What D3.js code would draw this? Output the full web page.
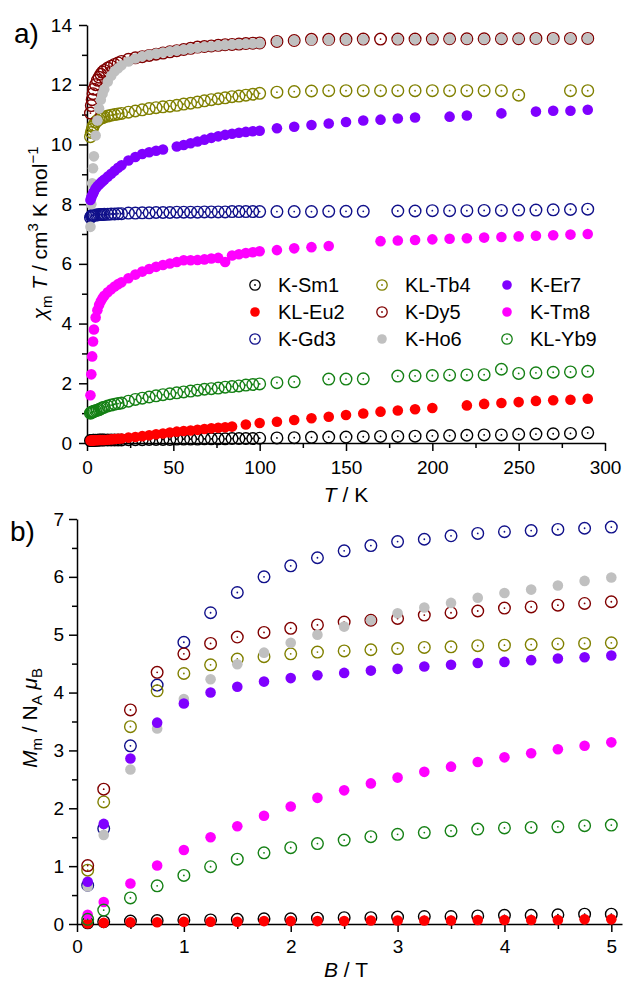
<!DOCTYPE html>
<html>
<head>
<meta charset="utf-8">
<script src="https://cdn.jsdelivr.net/npm/d3@7"></script>
<style>
  body { margin: 0; background: #fff; }
  svg { font-family: 'Liberation Sans', Arial, sans-serif; }
</style>
</head>
<body>
<svg id="chart" width="624" height="981"></svg>
<script>
const names = ['K-Sm1', 'KL-Eu2', 'K-Gd3', 'KL-Tb4', 'K-Dy5', 'K-Ho6', 'K-Er7', 'K-Tm8', 'KL-Yb9']
const colors = ['#000000', '#ff0000', '#10108a', '#808000', '#800000', '#c0c0c0', '#8000ff', '#ff00ff', '#158015']
const filled = [false, true, false, false, false, true, true, true, false]

// panel a) chi*T vs T
const tempK = [
  2, 2.5, 3, 3.5, 4, 5, 6, 7, 8, 9, 10, 12, 14, 16, 18, 20,
  24, 28, 32, 36, 40, 44, 48, 52, 56, 60, 64, 68, 72, 76, 80, 84, 88, 92, 96, 100,
  110, 120, 130, 140, 150, 160, 170, 180, 190, 200, 210, 220, 230, 240, 250, 260, 270, 280, 290
]
const sm1ChiT = [
  0.08, 0.08, 0.08, 0.09, 0.09, 0.09, 0.09, 0.1, 0.1, 0.1, 0.1, 0.1, 0.1, 0.1, 0.1, 0.1,
  0.11, 0.11, 0.11, 0.12, 0.12, 0.12, 0.12, 0.13, 0.13, 0.13, 0.13, 0.14, 0.14, 0.14, 0.14, 0.15, 0.15, 0.15, 0.15, 0.16,
  0.17, 0.18, 0.19, 0.2, 0.2, 0.21, 0.22, 0.22, 0.23, 0.24, 0.25, 0.26, 0.27, 0.27, 0.29, 0.3, 0.31, 0.32, 0.34
]
const eu2ChiT = [
  0.08, 0.08, 0.08, 0.08, 0.09, 0.09, 0.09, 0.1, 0.1, 0.1, 0.1, 0.11, 0.12, 0.13, 0.14, 0.15,
  0.18, 0.2, 0.23, 0.26, 0.29, 0.32, 0.35, 0.38, 0.4, 0.42, 0.44, 0.47, 0.49, 0.51, 0.53, 0.55, null, 0.62, null, 0.67,
  0.71, 0.77, 0.83, 0.88, 0.94, 0.99, 1.05, 1.09, 1.13, 1.17, null, 1.26, 1.31, 1.34, 1.37, 1.41, 1.43, 1.45, 1.48
]
const gd3ChiT = [
  7.55, 7.6, 7.62, 7.63, 7.63, 7.64, 7.64, 7.65, 7.65, 7.65, 7.66, 7.66, 7.67, 7.67, 7.68, 7.68,
  7.7, 7.7, 7.71, 7.71, 7.72, 7.72, 7.72, 7.73, 7.73, 7.73, 7.73, 7.74, 7.74, 7.74, 7.74, 7.75, 7.75, 7.75, 7.75, 7.75,
  7.75, 7.75, 7.75, 7.76, 7.76, 7.76, null, 7.77, 7.77, 7.78, 7.78, 7.78, 7.79, 7.79, 7.8, 7.8, 7.81, 7.82, 7.83
]
const tb4ChiT = [
  10.26, 10.4, 10.5, 10.6, 10.65, 10.75, 10.8, 10.85, 10.88, 10.9, 10.92, 10.95, 10.98, 11.0, 11.02, 11.04,
  11.08, 11.12, 11.16, 11.2, 11.23, 11.26, 11.28, 11.31, 11.35, 11.38, 11.42, 11.46, 11.5, 11.53, 11.56, 11.6, 11.62, 11.65, 11.68, 11.71,
  11.75, 11.77, 11.79, 11.8, 11.8, 11.8, 11.8, 11.8, 11.8, 11.8, 11.8, 11.8, 11.8, 11.8, 11.65, null, null, 11.8, 11.8
]
const dy5ChiT = [
  11.05, 11.3, 11.5, 11.7, 11.85, 12.0, 12.15, 12.25, 12.35, 12.42, 12.48, 12.56, 12.62, 12.68, 12.73, 12.78,
  12.85, 12.9, 12.94, 12.98, 13.02, 13.06, 13.1, 13.14, 13.18, 13.22, 13.26, 13.28, 13.3, 13.32, 13.34, 13.35, 13.36, 13.38, 13.39, 13.4,
  13.45, 13.48, 13.52, 13.52, 13.52, 13.53, 13.53, 13.53, 13.53, 13.53, 13.54, 13.54, 13.54, 13.54, 13.54, 13.55, 13.55, 13.55, 13.55
]
const ho6ChiT = [
  7.24, 8.0, 8.7, 9.2, 9.6, 10.3, 10.8, 11.2, 11.5, 11.7, 11.85, 12.1, 12.3, 12.45, 12.55, 12.65,
  12.78, 12.88, 12.95, 13.0, 13.04, 13.08, 13.12, 13.15, 13.18, 13.21, 13.24, 13.27, 13.29, 13.31, 13.33, 13.35, 13.36, 13.37, 13.38, 13.39,
  13.45, 13.48, 13.5, 13.5, 13.51, 13.52, null, 13.52, 13.52, 13.53, 13.53, 13.53, 13.53, 13.54, 13.54, 13.54, 13.54, 13.55, 13.55
]
const er7ChiT = [
  8.14, 8.22, 8.3, 8.36, 8.42, 8.52, 8.6, 8.66, 8.72, 8.77, 8.82, 8.92, 9.02, 9.12, 9.22, 9.3,
  9.46, 9.58, 9.68, 9.74, 9.79, 9.83, null, 9.93, 9.98, 10.04, 10.1, 10.16, 10.22, 10.27, 10.32, 10.36, 10.39, 10.42, 10.44, 10.46,
  10.54, 10.59, 10.65, 10.7, 10.75, 10.8, 10.83, 10.87, 10.9, null, 10.93, 10.97, null, 11.04, null, 11.1, 11.13, 11.13, 11.16
]
const tm8ChiT = [
  1.6, 2.3, 2.9, 3.4, 3.8, 4.2, 4.45, 4.62, 4.75, 4.85, 4.93, 5.05, 5.15, 5.24, 5.32, 5.38,
  5.52, 5.64, 5.74, 5.83, 5.9, 5.96, 6.01, 6.06, 6.12, 6.12, 6.13, 6.15, 6.18, 6.2, 6.06, 6.28, 6.32, 6.36, 6.39, 6.42,
  6.46, 6.52, 6.56, 6.6, null, null, 6.76, 6.78, 6.8, 6.82, 6.84, 6.86, 6.88, 6.9, 6.92, 6.94, 6.96, 6.98, 7.0
]
const yb9ChiT = [
  1.0, 1.02, 1.04, 1.05, 1.06, 1.08, 1.1, 1.12, 1.15, 1.18, 1.2, 1.24, 1.27, 1.3, 1.32, 1.34,
  1.4, 1.46, 1.5, 1.54, 1.58, 1.62, 1.65, 1.68, 1.71, 1.74, 1.77, 1.8, 1.82, 1.84, 1.87, 1.89, 1.91, 1.94, 1.96, 1.98,
  2.02, 2.05, null, 2.14, 2.14, 2.15, null, 2.24, 2.25, 2.26, 2.27, 2.28, 2.29, 2.47, 2.33, 2.35, 2.37, 2.38, 2.4
]

// panel b) M vs B
const fieldB = [0.1, 0.25, 0.5, 0.75, 1, 1.25, 1.5, 1.75, 2, 2.25, 2.5, 2.75, 3, 3.25, 3.5, 3.75, 4, 4.25, 4.5, 4.75, 5]
const sm1M = [0.02, 0.04, 0.05, 0.06, 0.07, 0.07, 0.08, 0.09, 0.09, 0.1, 0.11, 0.11, 0.12, 0.13, 0.13, 0.14, 0.15, 0.15, 0.16, 0.17, 0.17]
const eu2M = [0.01, 0.02, 0.03, 0.03, 0.04, 0.04, 0.04, 0.05, 0.05, 0.05, 0.05, 0.06, 0.06, 0.06, 0.06, 0.07, 0.07, 0.07, 0.07, 0.08, 0.08]
const gd3M = [0.67, 1.65, 3.08, 4.13, 4.87, 5.38, 5.73, 6.0, 6.19, 6.33, 6.45, 6.54, 6.61, 6.65, 6.71, 6.75, 6.78, 6.8, 6.82, 6.84, 6.86]
const tb4M = [0.93, 2.11, 3.41, 4.03, 4.33, 4.48, 4.58, 4.62, 4.67, 4.7, 4.72, 4.74, 4.76, 4.78, 4.79, 4.81, 4.82, 4.83, 4.84, 4.85, 4.86]
const dy5M = [1.01, 2.33, 3.7, 4.35, 4.67, 4.85, 4.96, 5.04, 5.11, 5.17, 5.22, 5.25, 5.28, 5.34, 5.38, 5.41, 5.46, 5.48, 5.51, 5.54, 5.57]
const ho6M = [0.65, 1.54, 2.67, 3.38, 3.89, 4.23, 4.49, 4.69, 4.86, 5.0, 5.14, 5.25, 5.37, 5.47, 5.55, 5.64, 5.72, 5.78, 5.85, 5.93, 5.99]
const er7M = [0.73, 1.73, 2.86, 3.48, 3.81, 4.0, 4.1, 4.19, 4.25, 4.3, 4.34, 4.38, 4.41, 4.45, 4.48, 4.51, 4.53, 4.56, 4.59, 4.61, 4.64]
const tm8M = [0.16, 0.38, 0.7, 1.01, 1.28, 1.5, 1.69, 1.87, 2.03, 2.18, 2.31, 2.43, 2.53, 2.63, 2.72, 2.8, 2.88, 2.95, 3.02, 3.08, 3.14]
const yb9M = [0.08, 0.24, 0.45, 0.66, 0.84, 0.99, 1.12, 1.23, 1.32, 1.39, 1.45, 1.51, 1.55, 1.58, 1.61, 1.64, 1.66, 1.67, 1.68, 1.7, 1.71]

const chiSeries = [sm1ChiT, eu2ChiT, gd3ChiT, tb4ChiT, dy5ChiT, ho6ChiT, er7ChiT, tm8ChiT, yb9ChiT]
const magSeries = [sm1M, eu2M, gd3M, tb4M, dy5M, ho6M, er7M, tm8M, yb9M]

const svg = d3.select('#chart')
const fmt = d3.format('~g')

function drawMarkers (g, xs, ys, x, y, i, r) {
  const pts = xs.map((v, k) => ({ x: v, y: ys[k] })).filter(d => d.y !== null)
  const s = g.append('g')
  if (filled[i]) {
    s.selectAll('circle').data(pts).enter().append('circle')
      .attr('cx', d => x(d.x))
      .attr('cy', d => y(d.y))
      .attr('r', r.fill)
      .attr('fill', colors[i])
  } else {
    s.selectAll('circle.ring').data(pts).enter().append('circle')
      .attr('class', 'ring')
      .attr('cx', d => x(d.x))
      .attr('cy', d => y(d.y))
      .attr('r', r.ring)
      .attr('fill', 'none')
      .attr('stroke', colors[i])
      .attr('stroke-width', 1.4)
    s.selectAll('circle.dot').data(pts).enter().append('circle')
      .attr('class', 'dot')
      .attr('cx', d => x(d.x))
      .attr('cy', d => y(d.y))
      .attr('r', 0.9)
      .attr('fill', colors[i])
  }
}

function styleAxis (g, size) {
  g.attr('font-family', null).attr('font-size', size)
  g.selectAll('path, line').attr('stroke', '#000').attr('stroke-width', 1.5)
  g.selectAll('text').attr('fill', '#000')
}

const markerSize = { ring: 5.8, fill: 5.3 }

// ---------- panel a ----------
const xA = d3.scaleLinear().domain([0, 300]).range([87, 605])
const yA = d3.scaleLinear().domain([0, 14]).range([443, 25])

svg.append('g')
  .attr('transform', 'translate(0,443)')
  .call(d3.axisBottom(xA).tickValues(d3.range(25, 300, 50)).tickSize(5).tickFormat('').tickSizeOuter(0))
  .call(g => g.select('.domain').remove())
  .call(g => styleAxis(g, 19))
svg.append('g')
  .attr('transform', 'translate(0,443)')
  .call(d3.axisBottom(xA).tickValues(d3.range(0, 301, 50)).tickSize(8).tickPadding(10).tickFormat(fmt).tickSizeOuter(0))
  .call(g => styleAxis(g, 19))
svg.append('g')
  .attr('transform', 'translate(87,0)')
  .call(d3.axisLeft(yA).tickValues(d3.range(1, 14, 2)).tickSize(5).tickFormat('').tickSizeOuter(0))
  .call(g => g.select('.domain').remove())
  .call(g => styleAxis(g, 19))
svg.append('g')
  .attr('transform', 'translate(87,0)')
  .call(d3.axisLeft(yA).tickValues(d3.range(0, 15, 2)).tickSize(8).tickPadding(7).tickFormat(fmt).tickSizeOuter(0))
  .call(g => styleAxis(g, 19))

const plotA = svg.append('g')
chiSeries.forEach((s, i) => drawMarkers(plotA, tempK, s, xA, yA, i, markerSize))

// legend
const legend = svg.append('g').attr('font-size', 20)
names.forEach((n, i) => {
  const col = Math.floor(i / 3)
  const row = i % 3
  const lx = [255, 382, 507][col]
  const ly = 285 + row * 27
  const item = legend.append('g')
  if (filled[i]) {
    item.append('circle').attr('cx', lx).attr('cy', ly).attr('r', 4.8).attr('fill', colors[i])
  } else {
    item.append('circle').attr('cx', lx).attr('cy', ly).attr('r', 5.2)
      .attr('fill', 'none').attr('stroke', colors[i]).attr('stroke-width', 1.3)
    item.append('circle').attr('cx', lx).attr('cy', ly).attr('r', 0.9).attr('fill', colors[i])
  }
  item.append('text').attr('x', lx + 23).attr('y', ly + 7).text(n)
})

// axis titles a
svg.append('text')
  .attr('x', 346).attr('y', 502)
  .attr('text-anchor', 'middle')
  .attr('font-size', 21)
  .call(t => {
    t.append('tspan').attr('font-style', 'italic').text('T')
    t.append('tspan').text(' / K')
  })

svg.append('text')
  .attr('transform', 'translate(47,233) rotate(-90)')
  .attr('text-anchor', 'middle')
  .attr('font-size', 21)
  .call(t => {
    t.append('tspan').attr('font-style', 'italic').text('χ')
    t.append('tspan').attr('font-size', 15).attr('dy', 5).text('m')
    t.append('tspan').attr('dy', -5).text(' ')
    t.append('tspan').attr('font-style', 'italic').text('T')
    t.append('tspan').text(' / cm')
    t.append('tspan').attr('font-size', 15).attr('dy', -9).text('3')
    t.append('tspan').attr('dy', 9).text(' K mol')
    t.append('tspan').attr('font-size', 15).attr('dy', -9).text('−1')
  })

svg.append('text').attr('x', 14).attr('y', 43).attr('font-size', 28).text('a)')

// ---------- panel b ----------
const xB = d3.scaleLinear().domain([0, 5.1]).range([77, 622])
const yB = d3.scaleLinear().domain([0, 7]).range([924, 519])

svg.append('g')
  .attr('transform', 'translate(0,924)')
  .call(d3.axisBottom(xB).tickValues(d3.range(0.5, 5.1, 1)).tickSize(5).tickFormat('').tickSizeOuter(0))
  .call(g => g.select('.domain').remove())
  .call(g => styleAxis(g, 19))
svg.append('g')
  .attr('transform', 'translate(0,924)')
  .call(d3.axisBottom(xB).tickValues(d3.range(0, 6, 1)).tickSize(8).tickPadding(8).tickFormat(fmt).tickSizeOuter(0))
  .call(g => styleAxis(g, 19))
svg.append('g')
  .attr('transform', 'translate(77,0)')
  .call(d3.axisLeft(yB).tickValues(d3.range(0.5, 7, 1)).tickSize(5).tickFormat('').tickSizeOuter(0))
  .call(g => g.select('.domain').remove())
  .call(g => styleAxis(g, 19))
svg.append('g')
  .attr('transform', 'translate(77,0)')
  .call(d3.axisLeft(yB).tickValues(d3.range(0, 8, 1)).tickSize(8).tickPadding(5).tickFormat(fmt).tickSizeOuter(0))
  .call(g => styleAxis(g, 19))

const plotB = svg.append('g')
magSeries.forEach((s, i) => drawMarkers(plotB, fieldB, s, xB, yB, i, markerSize))

svg.append('text')
  .attr('x', 346).attr('y', 977)
  .attr('text-anchor', 'middle')
  .attr('font-size', 21)
  .call(t => {
    t.append('tspan').attr('font-style', 'italic').text('B')
    t.append('tspan').text(' / T')
  })

svg.append('text')
  .attr('transform', 'translate(37,718) rotate(-90)')
  .attr('text-anchor', 'middle')
  .attr('font-size', 21)
  .call(t => {
    t.append('tspan').attr('font-style', 'italic').text('M')
    t.append('tspan').attr('font-size', 15).attr('dy', 5).text('m')
    t.append('tspan').attr('dy', -5).text(' / N')
    t.append('tspan').attr('font-size', 15).attr('dy', 5).text('A')
    t.append('tspan').attr('dy', -5).text(' ')
    t.append('tspan').attr('font-style', 'italic').text('μ')
    t.append('tspan').attr('font-size', 15).attr('dy', 5).text('B')
  })

svg.append('text').attr('x', 10).attr('y', 541).attr('font-size', 28).text('b)')
</script>
</body>
</html>
